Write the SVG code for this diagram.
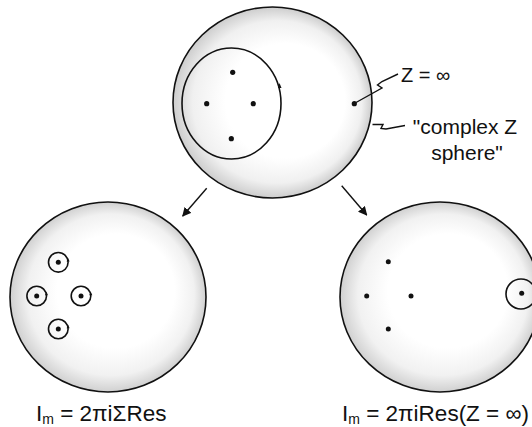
<svg xmlns="http://www.w3.org/2000/svg" width="532" height="427" viewBox="0 0 532 427">
<style>
.sphere{stroke:#111;stroke-width:1.6}
.ln{fill:none;stroke:#111;stroke-width:1.4}
.dot{fill:#111}
.ring{fill:none;stroke:#111;stroke-width:1.6}
.t{font-family:"Liberation Sans",Arial,sans-serif;fill:#111}
</style>
<defs>
<radialGradient id="gTop" cx="0.5" cy="0.5" r="0.5" fx="0.66" fy="0.48">
<stop offset="0" stop-color="#fff"/>
<stop offset="0.6" stop-color="#fff"/>
<stop offset="0.85" stop-color="#f0f0f0"/>
<stop offset="1" stop-color="#cdcdcd"/>
</radialGradient>
<radialGradient id="gBot" cx="0.5" cy="0.5" r="0.5" fx="0.6" fy="0.42">
<stop offset="0" stop-color="#fff"/>
<stop offset="0.6" stop-color="#fff"/>
<stop offset="0.85" stop-color="#f1f1f1"/>
<stop offset="1" stop-color="#d0d0d0"/>
</radialGradient>
<marker id="ah" viewBox="0 0 10 10" refX="9" refY="5" markerWidth="9" markerHeight="9" markerUnits="userSpaceOnUse" orient="auto">
<path d="M0,0 L10,5 L0,10 z" fill="#111"/>
</marker>
</defs>
<rect width="532" height="427" fill="#fff"/>

<g id="top-sphere">
<ellipse class="sphere" cx="272.5" cy="102.5" rx="99.5" ry="95.5" fill="url(#gTop)"/>
<ellipse class="ring" cx="231.5" cy="103.5" rx="49.5" ry="55.5"/>
<path d="M279.5,83 L281.5,88 L278,88 z" fill="#111"/>
<circle class="dot" cx="232.7" cy="72.3" r="2.6"/>
<circle class="dot" cx="206.7" cy="103.7" r="2.6"/>
<circle class="dot" cx="253.3" cy="103.7" r="2.6"/>
<circle class="dot" cx="231.3" cy="138.7" r="2.6"/>
<circle class="dot" cx="354.3" cy="103.7" r="2.6"/>
</g>

<g id="label-z-inf">
<text class="t" x="401" y="82" font-size="20">Z = ∞</text>
</g>
<g id="label-sphere">
<text class="t" x="465" y="134" font-size="21" text-anchor="middle">"complex Z</text>
<text class="t" x="467" y="160" font-size="21" text-anchor="middle">sphere"</text>
</g>

<g id="left-sphere">
<ellipse class="sphere" cx="108" cy="297" rx="98" ry="95" fill="url(#gBot)"/>
<circle class="ring" cx="58.3" cy="262.3" r="9.8"/>
<circle class="ring" cx="36.7" cy="296" r="9.8"/>
<circle class="ring" cx="81" cy="296" r="9.8"/>
<circle class="ring" cx="58.3" cy="329" r="9.8"/>
<path d="M66.6,261.5 L69.6,261.5 L68.1,258 z M45,295.2 L48,295.2 L46.5,291.7 z M89.3,295.2 L92.3,295.2 L90.8,291.7 z M66.6,328.2 L69.6,328.2 L68.1,324.7 z" fill="#111"/>
<circle class="dot" cx="58.3" cy="262.3" r="2.5"/>
<circle class="dot" cx="36.7" cy="296" r="2.5"/>
<circle class="dot" cx="81" cy="296" r="2.5"/>
<circle class="dot" cx="58.3" cy="329" r="2.5"/>
</g>
<g id="label-left">
<text class="t" x="36" y="421" font-size="22.5">I<tspan font-size="14" dy="3">m</tspan><tspan dy="-3"> = 2πiΣRes</tspan></text>
</g>

<g id="right-sphere">
<ellipse class="sphere" cx="440" cy="297" rx="100" ry="95" fill="url(#gBot)"/>
<circle class="ring" cx="521" cy="294" r="15"/>
<circle class="dot" cx="388.3" cy="261.7" r="2.5"/>
<circle class="dot" cx="366.7" cy="296" r="2.5"/>
<circle class="dot" cx="411" cy="296" r="2.5"/>
<circle class="dot" cx="388.3" cy="329" r="2.5"/>
<circle class="dot" cx="521.7" cy="293.3" r="2.5"/>
</g>
<g id="label-right">
<text class="t" x="342" y="421" font-size="22.5">I<tspan font-size="14" dy="3">m</tspan><tspan dy="-3"> = 2πiRes(Z = ∞)</tspan></text>
</g>

<g id="connectors">
<line class="ln" x1="206.7" y1="188.3" x2="182.7" y2="216" marker-end="url(#ah)"/>
<line class="ln" x1="341.7" y1="185.7" x2="366.7" y2="215" marker-end="url(#ah)"/>
<path class="ln" d="M356,102.5 L382,88 L377.5,85 L382,81.5 L398,74"/>
<path class="ln" d="M372.5,124.5 L383,124.5 L381,128.5 L386,129 L405,125.5"/>
</g>
</svg>
